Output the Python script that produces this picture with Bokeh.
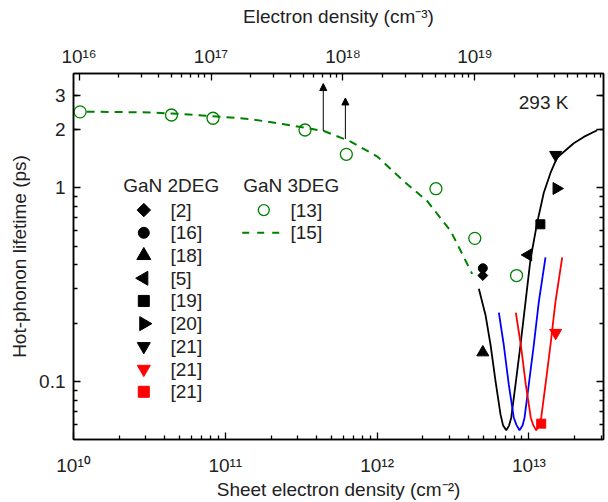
import numpy as np
from bokeh.plotting import figure
from bokeh.core.properties import value
from bokeh.models import (LogAxis, Range1d, LogScale, LinearScale, FixedTicker,
                          CustomJSTickFormatter, Label, Arrow, NormalHead, ColumnDataSource)
from bokeh.embed import file_html
from bokeh.resources import INLINE

# ---------------- data ----------------
# GaN 2DEG literature points
ref_labels = ["[2]", "[16]", "[18]", "[5]", "[19]", "[20]", "[21]", "[21]", "[21]"]
ref_x = [4.97e12, 4.97e12, 4.97e12, 9.89e12, 1.19e13, 1.52e13, 1.50e13, 1.50e13, 1.205e13]
ref_y = [0.352, 0.384, 0.141, 0.450, 0.648, 0.992, 1.48, 0.178, 0.0604]

# GaN 3DEG [13] (open circles)
x13 = [1.105e10, 4.42e10, 8.30e10, 3.35e11, 6.27e11, 2.44e12, 4.40e12, 8.29e12]
y13 = [2.47, 2.38, 2.29, 1.99, 1.49, 0.99, 0.548, 0.352]

# GaN 3DEG [15] (dashed curve)
x15 = [1.22e10, 3.23e10, 5.35e10, 1.47e11, 2.44e11, 4.46e11, 6.69e11, 1.003e12,
       1.50e12, 2.14e12, 3.05e12, 4.23e12]
y15 = [2.477, 2.454, 2.404, 2.267, 2.13, 1.967, 1.734, 1.452, 1.081, 0.854, 0.599, 0.359]

# lower-limit arrows
arrow_x = [4.42e11, 6.18e11]
arrow_y0 = [1.967, 1.789]
arrow_y1 = [3.46, 2.915]

# model curves
black_x = [4.68e12, 5.18e12, 5.59e12, 6.03e12, 6.50e12, 6.75e12, 7.09e12, 7.40e12, 7.65e12,
           8.16e12, 8.80e12, 9.50e12, 1.025e13, 1.134e13, 1.253e13, 1.387e13, 1.53e13,
           1.975e13, 2.298e13, 2.817e13]
black_y = [0.301, 0.2196, 0.154, 0.100, 0.0674, 0.0593, 0.0558, 0.0590, 0.0648, 0.0960,
           0.154, 0.257, 0.429, 0.661, 0.943, 1.194, 1.43, 1.70, 1.833, 1.984]
blue_x = [6.34e12, 6.83e12, 7.37e12, 7.95e12, 8.29e12, 8.67e12, 9.08e12, 9.36e12, 9.98e12,
          1.077e13, 1.162e13, 1.286e13]
blue_y = [0.2266, 0.154, 0.0960, 0.0648, 0.0593, 0.0558, 0.0590, 0.0648, 0.0960, 0.154,
          0.257, 0.4375]
red_x = [8.20e12, 8.85e12, 9.54e12, 1.029e13, 1.069e13, 1.117e13, 1.167e13, 1.205e13,
         1.286e13, 1.387e13, 1.496e13, 1.657e13]
red_y = [0.2266, 0.154, 0.0960, 0.0648, 0.0593, 0.0558, 0.0590, 0.0648, 0.0960, 0.154,
         0.257, 0.4375]

# axes
x_lo, x_hi = 1e10, 3.1e13
top_lo, top_hi = 9.08e15, 9.42e19
y_lo, y_hi = 0.05, 3.9
x_major = [1e10, 1e11, 1e12, 1e13]
top_major = [1e16, 1e17, 1e18, 1e19]
y_major = [0.1, 1, 2, 3]
temp_text = "293 K"
temp_pos = (1.25e13, 2.77)
legend_titles = ["GaN 2DEG", "GaN 3DEG"]
legend3_labels = ["[13]", "[15]"]

# ---------------- styles / layout ----------------
FONT = "Liberation Sans"
TXT = "#222222"
FS = "19px"
GREEN = "#008000"
ref_marker = ["square", "circle", "triangle", "triangle", "square", "triangle",
              "inverted_triangle", "inverted_triangle", "square"]
ref_angle = [np.pi / 4, 0, 0, np.pi / 2, 0, -np.pi / 2, 0, 0, 0]
ref_size = [7, 9, 12, 12, 9, 12, 12, 12, 9]
leg_size = [9.5, 11, 14, 14, 11, 14, 13, 13, 11]
ref_color = ["black"] * 7 + ["red", "red"]

W, H = 608, 502
BL, BR, BT, BB = 73, 5, 73, 60
FW, FH = W - BL - BR, H - BT - BB

p = figure(width=W, height=H, x_axis_type="log", y_axis_type="log",
           x_range=Range1d(x_lo, x_hi), y_range=Range1d(y_lo, y_hi),
           output_backend="svg", toolbar_location=None,
           min_border_left=BL, min_border_right=BR, min_border_top=BT, min_border_bottom=BB)
p.extra_x_ranges = {"top": Range1d(top_lo, top_hi), "lgx": Range1d(0, FW)}
p.extra_x_scales = {"top": LogScale(), "lgx": LinearScale()}
p.extra_y_ranges = {"lgy": Range1d(0, FH)}
p.extra_y_scales = {"lgy": LinearScale()}
p.grid.visible = False
p.outline_line_color = "black"
p.outline_line_width = 1.5
p.background_fill_color = "white"
p.border_fill_color = "white"


def minor_list(lo_e, hi_e):
    return [m * 10.0 ** e for e in range(lo_e, hi_e) for m in range(2, 10)]


sup_fmt = CustomJSTickFormatter(code="""
const s = {"0":"\u2070","1":"\u00b9","2":"\u00b2","3":"\u00b3","4":"\u2074","5":"\u2075",
           "6":"\u2076","7":"\u2077","8":"\u2078","9":"\u2079","-":"\u207b"};
const e = Math.round(Math.log10(tick));
return "10" + String(e).split("").map(c => s[c]).join("");
""")
y_fmt = CustomJSTickFormatter(code="return tick < 1 ? tick.toFixed(1) : tick.toFixed(0);")

x_ticker = FixedTicker(ticks=x_major, minor_ticks=minor_list(10, 14))
top_ticker = FixedTicker(ticks=top_major, minor_ticks=minor_list(15, 20))
y_ticker = FixedTicker(ticks=y_major, minor_ticks=[0.06, 0.07, 0.08, 0.09, 0.2, 0.3, 0.4,
                                                    0.5, 0.6, 0.7, 0.8, 0.9, 2, 3, 4])


def style(ax):
    ax.major_tick_in = 7
    ax.major_tick_out = 0
    ax.minor_tick_in = 4
    ax.minor_tick_out = 0
    ax.axis_line_width = 1.5
    ax.axis_line_color = "black"
    ax.major_tick_line_width = 1.3
    ax.minor_tick_line_width = 1.3
    ax.major_label_text_font = FONT
    ax.major_label_text_font_size = FS
    ax.major_label_text_color = TXT
    ax.axis_label_text_font = FONT
    ax.axis_label_text_font_size = FS
    ax.axis_label_text_font_style = "normal"
    ax.axis_label_text_color = TXT


xb = p.xaxis[0]
xb.ticker = x_ticker
xb.formatter = sup_fmt
xb.axis_label = "Sheet electron density (cm\u207b\u00b2)"
style(xb)
xb.major_label_standoff = 15
xb.axis_label_standoff = 0

yl = p.yaxis[0]
yl.ticker = y_ticker
yl.formatter = y_fmt
yl.axis_label = "Hot-phonon lifetime (ps)"
style(yl)
yl.major_label_standoff = 8
yl.axis_label_standoff = 6

xt = LogAxis(x_range_name="top", ticker=top_ticker, formatter=sup_fmt,
             axis_label="Electron density (cm\u207b\u00b3)")
style(xt)
xt.major_label_standoff = 7
xt.axis_label_standoff = 16
p.add_layout(xt, "above")

yr = LogAxis(ticker=y_ticker, formatter=y_fmt)
style(yr)
yr.major_label_text_font_size = "1px"
yr.major_label_text_color = None
yr.major_label_standoff = 0
p.add_layout(yr, "right")

# curves
p.line(black_x, black_y, line_color="black", line_width=1.8)
p.line(blue_x, blue_y, line_color="blue", line_width=1.8)
p.line(red_x, red_y, line_color="red", line_width=1.8)
p.line(x15, y15, line_color=GREEN, line_width=2, line_dash="8 6")
p.scatter(x13, y13, marker="circle", size=12, fill_color=None, line_color=GREEN, line_width=1.3)

# arrows
asrc = ColumnDataSource(dict(x=arrow_x, y0=arrow_y0, y1=arrow_y1))
p.add_layout(Arrow(source=asrc, x_start="x", y_start="y0", x_end="x", y_end="y1",
                   line_width=1, line_color="black",
                   end=NormalHead(size=7, fill_color="black", line_color="black", line_width=1)))

# reference markers
for i in range(len(ref_x)):
    p.scatter([ref_x[i]], [ref_y[i]], marker=ref_marker[i], angle=ref_angle[i],
              size=ref_size[i], fill_color=ref_color[i], line_color=ref_color[i])

# ---------------- legend (pixel coordinates inside the frame) ----------------
L1_X, L2_X = 49.7, 169.7        # title left edges
TITLE_Y = 256                    # title centre
ROW0, PITCH = 231.3, 22.9        # first row centre, row pitch
GLYPH_DX, LABEL_DX = 20.6, 47.3  # glyph centre / label left, from title left
rows = [ROW0 - PITCH * i for i in range(len(ref_labels))]

txt_kw = dict(x_range_name="lgx", y_range_name="lgy", text_font=value(FONT),
              text_font_size=FS, text_color=TXT, text_baseline="middle", text_align="left")
p.text(x=[L1_X, L2_X], y=[TITLE_Y, TITLE_Y], text=legend_titles, **txt_kw)
p.text(x=[L1_X + LABEL_DX] * len(ref_labels), y=rows, text=ref_labels, **txt_kw)
p.text(x=[L2_X + LABEL_DX] * 2, y=rows[:2], text=legend3_labels, **txt_kw)
for i in range(len(ref_labels)):
    p.scatter([L1_X + GLYPH_DX], [rows[i]], x_range_name="lgx", y_range_name="lgy",
              marker=ref_marker[i], angle=ref_angle[i], size=leg_size[i],
              fill_color=ref_color[i], line_color=ref_color[i])
p.scatter([L2_X + GLYPH_DX], [rows[0]], x_range_name="lgx", y_range_name="lgy",
          marker="circle", size=11, fill_color=None, line_color=GREEN, line_width=1.3)
p.line([L2_X - 1, L2_X + 42.3], [rows[1], rows[1]], x_range_name="lgx", y_range_name="lgy",
       line_color=GREEN, line_width=2, line_dash="7 8")

p.add_layout(Label(x=temp_pos[0], y=temp_pos[1], text=temp_text, text_align="center",
                   text_baseline="middle", text_font=FONT, text_font_size=FS, text_color=TXT))

with open("out.html", "w", encoding="utf-8") as f:
    f.write(file_html(p, INLINE))
